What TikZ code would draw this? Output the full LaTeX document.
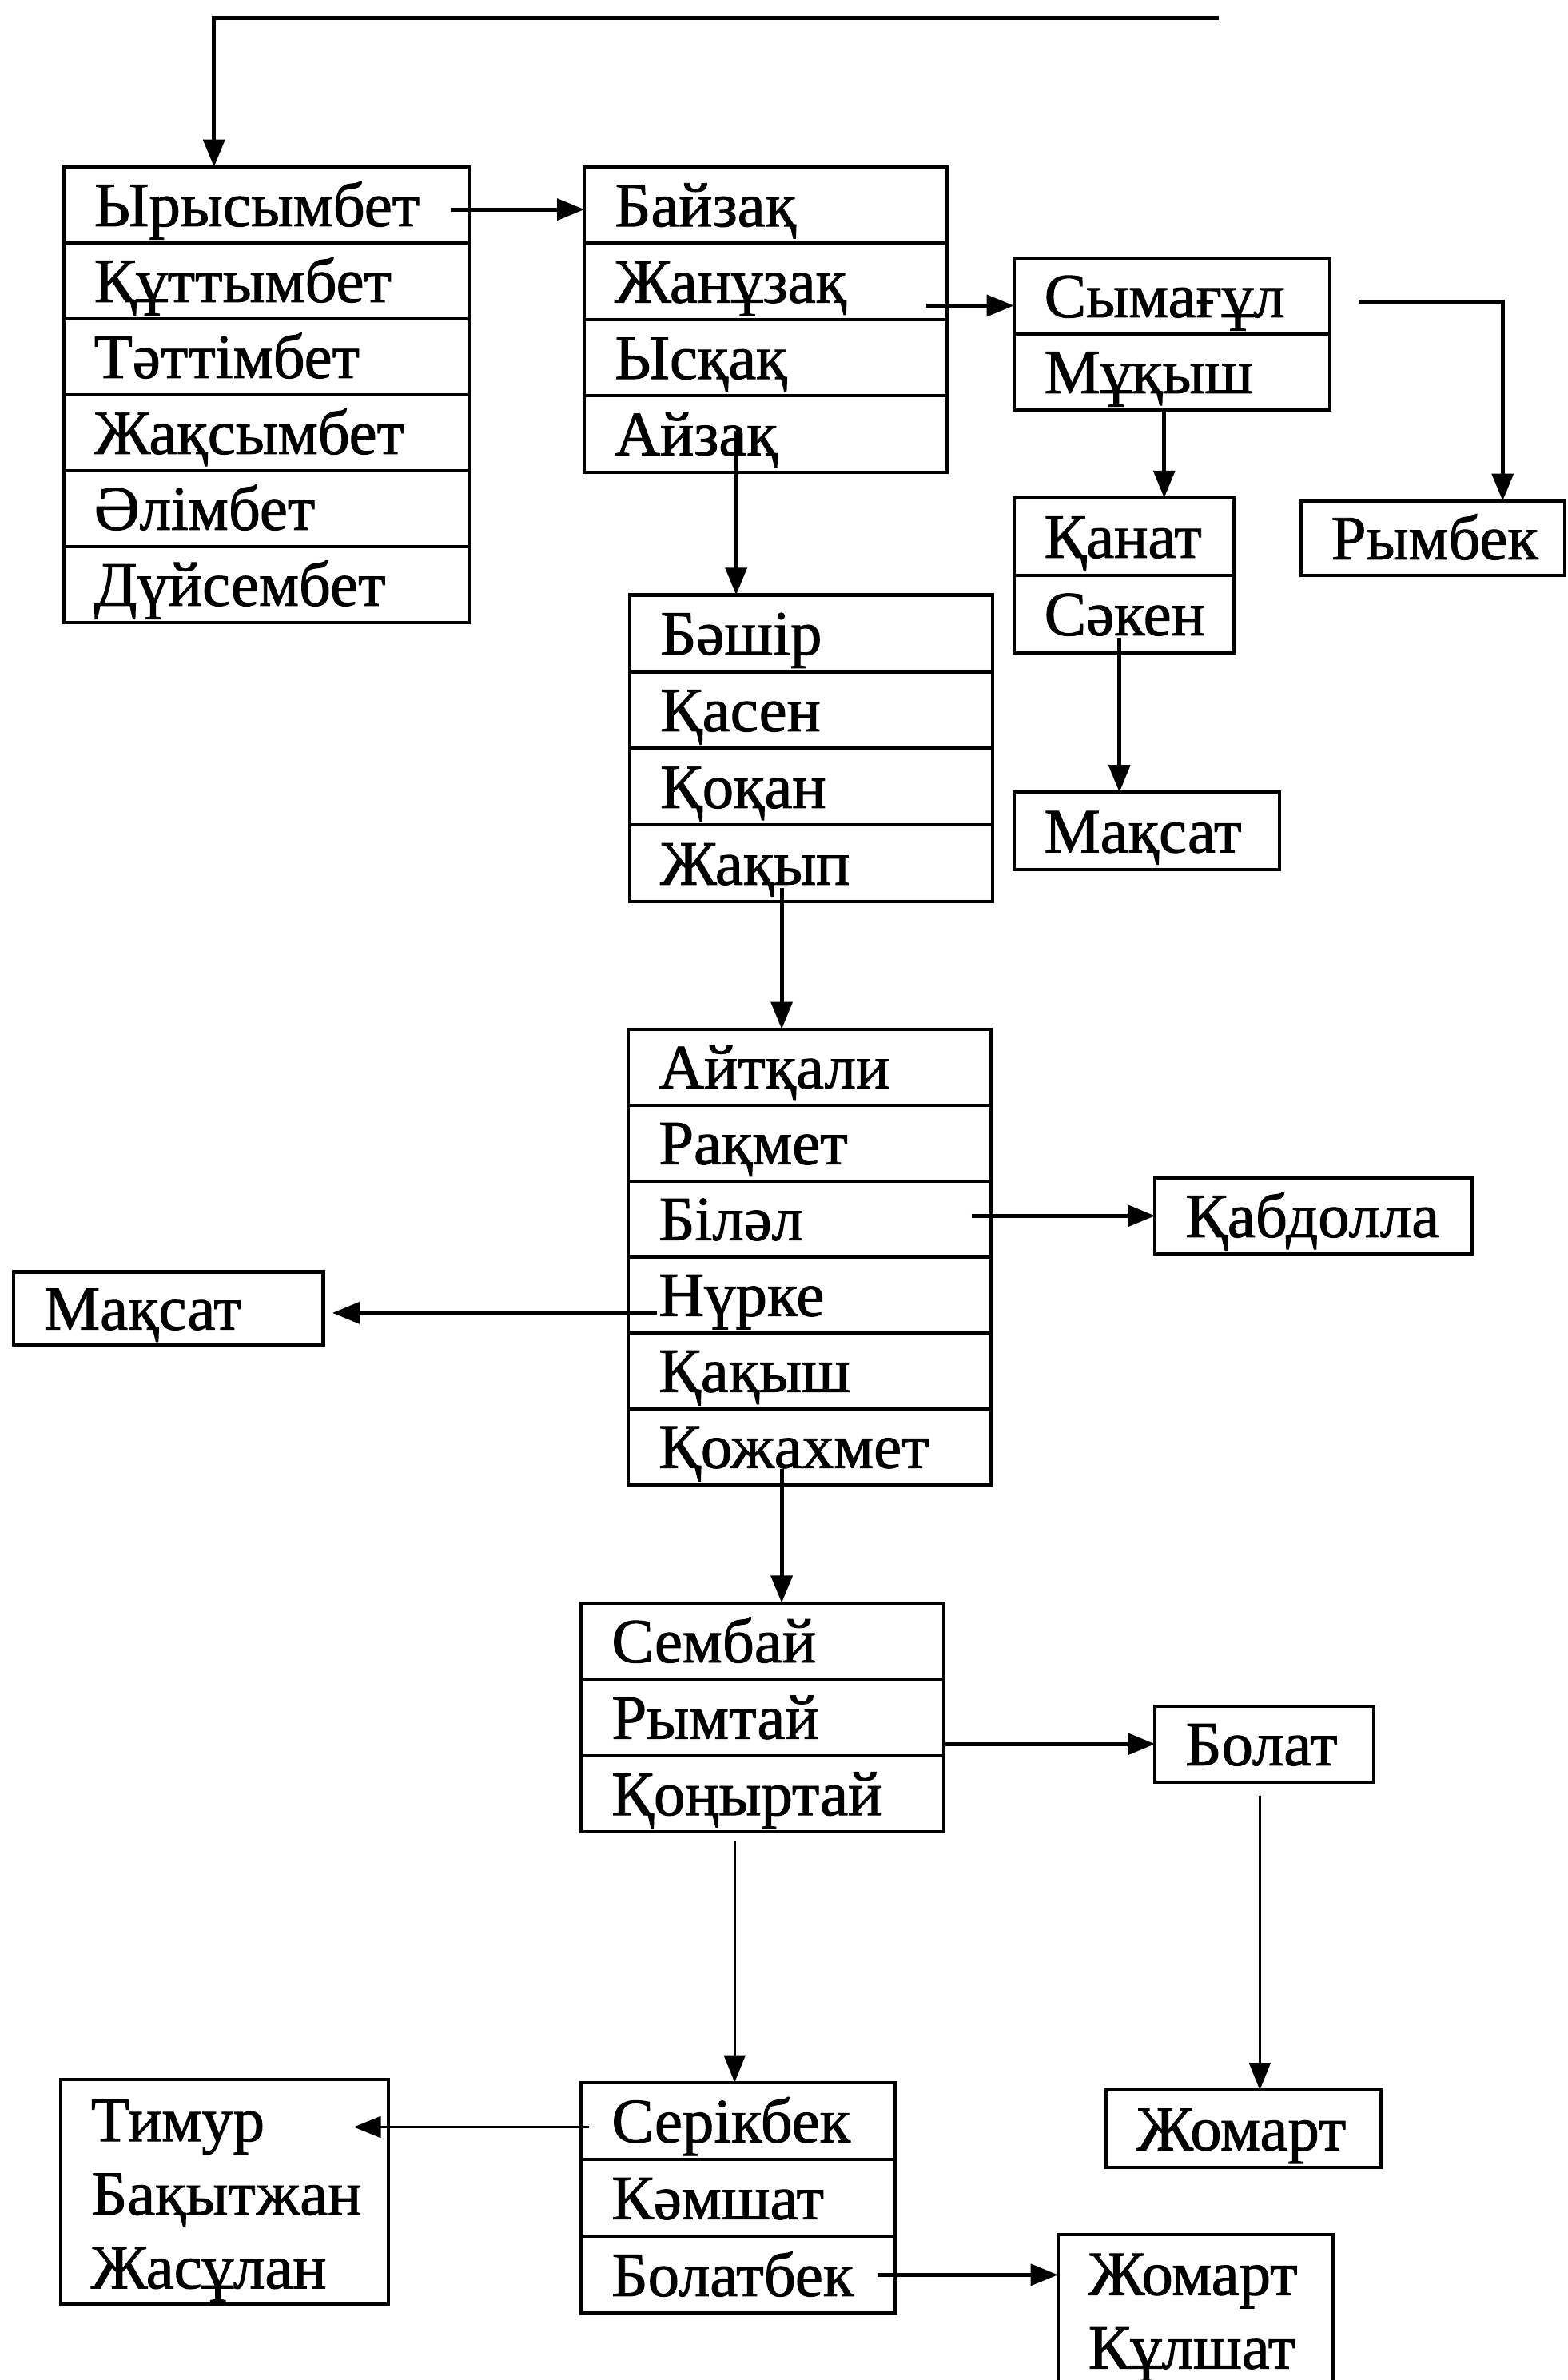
\documentclass[tikz,border=0pt]{standalone}
\usepackage{fontspec}
\setmainfont{Liberation Serif}
\newfontfamily\namefont{Liberation Serif}[FakeBold=1.2]
\usetikzlibrary{arrows.meta,calc}
\begin{document}
\begin{tikzpicture}[x=1pt,y=-1pt,
  cell/.style={draw, line width=2.2pt, rectangle, outer sep=0pt, anchor=north west,
    inner xsep=20pt, inner ysep=0pt, text height=28pt, text depth=0pt, align=left,
    font=\namefont\fontsize{41.5pt}{48pt}\selectfont},
  mcell/.style={draw, line width=2.2pt, rectangle, outer sep=0pt, anchor=north west,
    inner xsep=20pt, inner ysep=0pt, align=left, font=\namefont\fontsize{41.5pt}{48.5pt}\selectfont},
  conn/.style={line width=2.6pt, -{Triangle[length=18pt,width=14pt]}},
  thinconn/.style={conn, line width=1.6pt},
  colA/.style={cell, text width=227pt, minimum height=50pt},
  colB/.style={cell, text width=199pt, minimum height=50.25pt},
  colC/.style={cell, text width=168pt, minimum height=50pt},
  colD/.style={cell, text width=105pt, minimum height=51pt},
  colF/.style={cell, text width=199pt, minimum height=50.5pt},
  colG/.style={cell, text width=199pt, minimum height=50pt},
  colH/.style={cell, text width=199pt, minimum height=50.33pt},
  colI/.style={cell, text width=167pt, minimum height=50.67pt}]
\useasboundingbox (0,0) rectangle (1033,1568);
\clip (0,0) rectangle (1033,1568);

% box A
\node[colA] (a1) at (42,110) {Ырысымбет};
\node[colA] (a2) at (a1.south west) {Құттымбет};
\node[colA] (a3) at (a2.south west) {Тәттімбет};
\node[colA] (a4) at (a3.south west) {Жақсымбет};
\node[colA] (a5) at (a4.south west) {Әлімбет};
\node[colA] (a6) at (a5.south west) {Дүйсембет};
% box B
\node[colB] (b1) at (385,110) {Байзақ};
\node[colB] (b2) at (b1.south west) {Жанұзақ};
\node[colB] (b3) at (b2.south west) {Ысқақ};
\node[colB] (b4) at (b3.south west) {Айзақ};
% box C
\node[colC] (c1) at (668,170) {Сымағұл};
\node[colC] (c2) at (c1.south west) {Мұқыш};
% box D
\node[colD] (d1) at (668,328) {Қанат};
\node[colD] (d2) at (d1.south west) {Сәкен};
% singles
\node[cell, text width=135pt, minimum height=51pt] (e) at (668,522) {Мақсат};
\node[cell, text width=134pt, minimum height=49pt] (r) at (857,330) {Рымбек};
% box F
\node[colF] (f1) at (415,392) {Бәшір};
\node[colF] (f2) at (f1.south west) {Қасен};
\node[colF] (f3) at (f2.south west) {Қоқан};
\node[colF] (f4) at (f3.south west) {Жақып};
% box G
\node[colG] (g1) at (414,678) {Айтқали};
\node[colG] (g2) at (g1.south west) {Рақмет};
\node[colG] (g3) at (g2.south west) {Біләл};
\node[colG] (g4) at (g3.south west) {Нүрке};
\node[colG] (g5) at (g4.south west) {Қақыш};
\node[colG] (g6) at (g5.south west) {Қожахмет};
\node[cell, text width=169pt, minimum height=50pt] (q) at (761,776) {Қабдолла};
\node[cell, text width=164pt, minimum height=48pt] (m) at (9,838) {Мақсат};
% box H
\node[colH] (h1) at (383,1056) {Сембай};
\node[colH] (h2) at (h1.south west) {Рымтай};
\node[colH] (h3) at (h2.south west) {Қоңыртай};
\node[cell, text width=104pt, minimum height=50pt] (bol) at (761,1124) {Болат};
\node[cell, text width=141pt, minimum height=51pt] (zh) at (729,1377) {Жомарт};
% box I
\node[colI] (i1) at (383,1372) {Серікбек};
\node[colI] (i2) at (i1.south west) {Кәмшат};
\node[colI] (i3) at (i2.south west) {Болатбек};
\node[mcell, text width=176pt, minimum height=148pt] (t) at (40,1370) {\rule{0pt}{39pt}Тимур\\Бақытжан\\Жасұлан};
\node[mcell, text width=141pt, minimum height=110pt] (j) at (697,1472) {Жомарт\\Кұлшат};

% connectors
\coordinate (top) at (803,12);
\draw[conn] (top) -| ($(a1.north west)+(99pt,0)$);
\draw[conn] ($(a1.east)+(-12pt,-3pt)$) -- ($(a1.east -| b1.west)+(0,-3pt)$);
\coordinate (s3) at ($(b2.east)+(-14pt,-16pt)$);
\draw[conn] (s3) -- (s3 -| c1.west);
\coordinate (s4) at ($(c1.east)+(19pt,-4pt)$);
\draw[conn] (s4) -| ($(r.north)+(46pt,0)$);
\coordinate (s5) at ($(c2.south)+(-5pt,0)$);
\draw[conn] (s5) -- (s5 |- d1.north);
\coordinate (s6) at ($(d2.south)+(-3pt,10pt)$);
\draw[conn] (s6) -- (s6 |- e.north);
\coordinate (s7) at ($(b4.south)+(-19.5pt,27pt)$);
\draw[conn] (s7) -- (s7 |- f1.north);
\coordinate (s8) at ($(f4.south)+(-19.5pt,9pt)$);
\draw[conn] (s8) -- (s8 |- g1.north);
\coordinate (s9) at ($(g3.east |- q.west)+(-13pt,0)$);
\draw[conn] (s9) -- (q.west);
\coordinate (s10) at ($(g4.west |- m.east)+(19pt,-3pt)$);
\draw[conn, shorten >=6pt] (s10) -- (s10 -| m.east);
\coordinate (s11) at ($(g6.south)+(-18.5pt,10pt)$);
\draw[conn] (s11) -- (s11 |- h1.north);
\draw[conn] (h2.east |- bol.west) -- (bol.west);
\coordinate (s13) at ($(h3.south)+(-18.5pt,-6pt)$);
\draw[thinconn] (s13) -- (s13 |- i1.north);
\coordinate (s14) at ($(bol.south)+(-3pt,-9pt)$);
\draw[thinconn] (s14) -- (s14 |- zh.north);
\coordinate (s15) at ($(i1.west)+(5pt,-4pt)$);
\coordinate (e15) at ($(t.east |- s15)+(-23pt,0)$);
\draw[conn, line width=2pt] (s15) -- (e15);
\draw[conn] ($(i3.east)+(-12pt,0)$) -- (i3.east -| j.west);
\end{tikzpicture}
\end{document}
